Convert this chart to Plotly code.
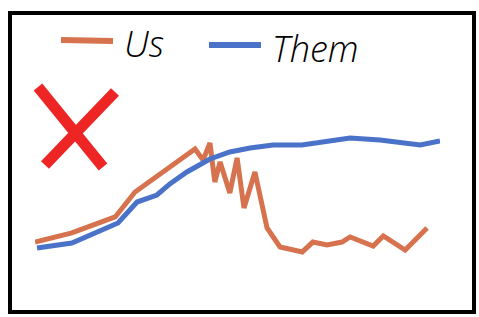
import plotly.graph_objects as go

# Data
us_x = [0, 9.1, 19.8, 24.7, 39.5, 41.5, 43.2, 44.4, 45.7, 48.1, 49.9, 51.6, 54.3,
        57.3, 60.5, 66.0, 68.6, 72.1, 75.8, 77.8, 83.5, 86.0, 91.4, 96.8]
us_y = [13.8, 20.8, 33.1, 52.3, 85.4, 76.9, 90.0, 60.0, 75.4, 51.5, 78.5, 40.0, 67.7,
        24.6, 10.0, 6.2, 13.8, 11.5, 13.8, 17.7, 10.8, 18.5, 7.7, 24.6]
them_x = [0.5, 9.1, 20.5, 25.2, 30.1, 33.3, 37.5, 43.2, 48.1, 53.1, 58.8, 65.9,
          77.8, 85.2, 95.1, 100]
them_y = [9.2, 13.1, 28.5, 44.6, 50.0, 58.5, 67.7, 77.7, 83.1, 86.2, 88.5, 88.5,
          93.8, 92.3, 88.5, 91.5]
series_names = ["Us", "Them"]
colors = ["#D6734E", "#4A72C8"]

W, H = 479, 317
L, R, T, B = 35, 39, 130, 57
PW, PH = W - L - R, H - T - B

fig = go.Figure()
fig.add_trace(go.Scatter(x=us_x, y=us_y, mode="lines", name=series_names[0],
                         line=dict(color=colors[0], width=5), showlegend=False))
fig.add_trace(go.Scatter(x=them_x, y=them_y, mode="lines", name=series_names[1],
                         line=dict(color=colors[1], width=5), showlegend=False))

def px(x):
    return (x - L) / PW

def py(y):
    return (H - B - y) / PH

shapes = []
# border
shapes.append(dict(type="rect", xref="paper", yref="paper",
                   x0=px(10), x1=px(474), y0=py(312), y1=py(13),
                   line=dict(color="black", width=4)))
# legend swatches
shapes.append(dict(type="line", xref="paper", yref="paper",
                   x0=px(61), x1=px(113), y0=py(40), y1=py(41),
                   line=dict(color=colors[0], width=6)))
shapes.append(dict(type="line", xref="paper", yref="paper",
                   x0=px(209), x1=px(261), y0=py(45), y1=py(45),
                   line=dict(color=colors[1], width=6)))
# red X
shapes.append(dict(type="line", xref="paper", yref="paper",
                   x0=px(38), x1=px(103), y0=py(87), y1=py(167),
                   line=dict(color="#EE2525", width=11)))
shapes.append(dict(type="line", xref="paper", yref="paper",
                   x0=px(115), x1=px(45), y0=py(92), y1=py(165),
                   line=dict(color="#EE2525", width=11)))

annotations = [
    dict(text=series_names[0], xref="paper", yref="paper", x=px(122), y=py(44),
         xanchor="left", yanchor="middle", showarrow=False,
         font=dict(family="Open Sans", size=36, color="black", style="italic", weight=300)),
    dict(text=series_names[1], xref="paper", yref="paper", x=px(270), y=py(48),
         xanchor="left", yanchor="middle", showarrow=False,
         font=dict(family="Open Sans", size=36, color="black", style="italic", weight=300)),
]

fig.update_layout(
    width=W, height=H,
    margin=dict(l=L, r=R, t=T, b=B),
    paper_bgcolor="white", plot_bgcolor="white",
    xaxis=dict(range=[0, 100], visible=False, fixedrange=True),
    yaxis=dict(range=[0, 100], visible=False, fixedrange=True),
    shapes=shapes, annotations=annotations,
)

fig.write_html("out.html", config=dict(displayModeBar=False),
               post_script="document.body.style.margin='0';document.body.style.overflow='hidden';")
